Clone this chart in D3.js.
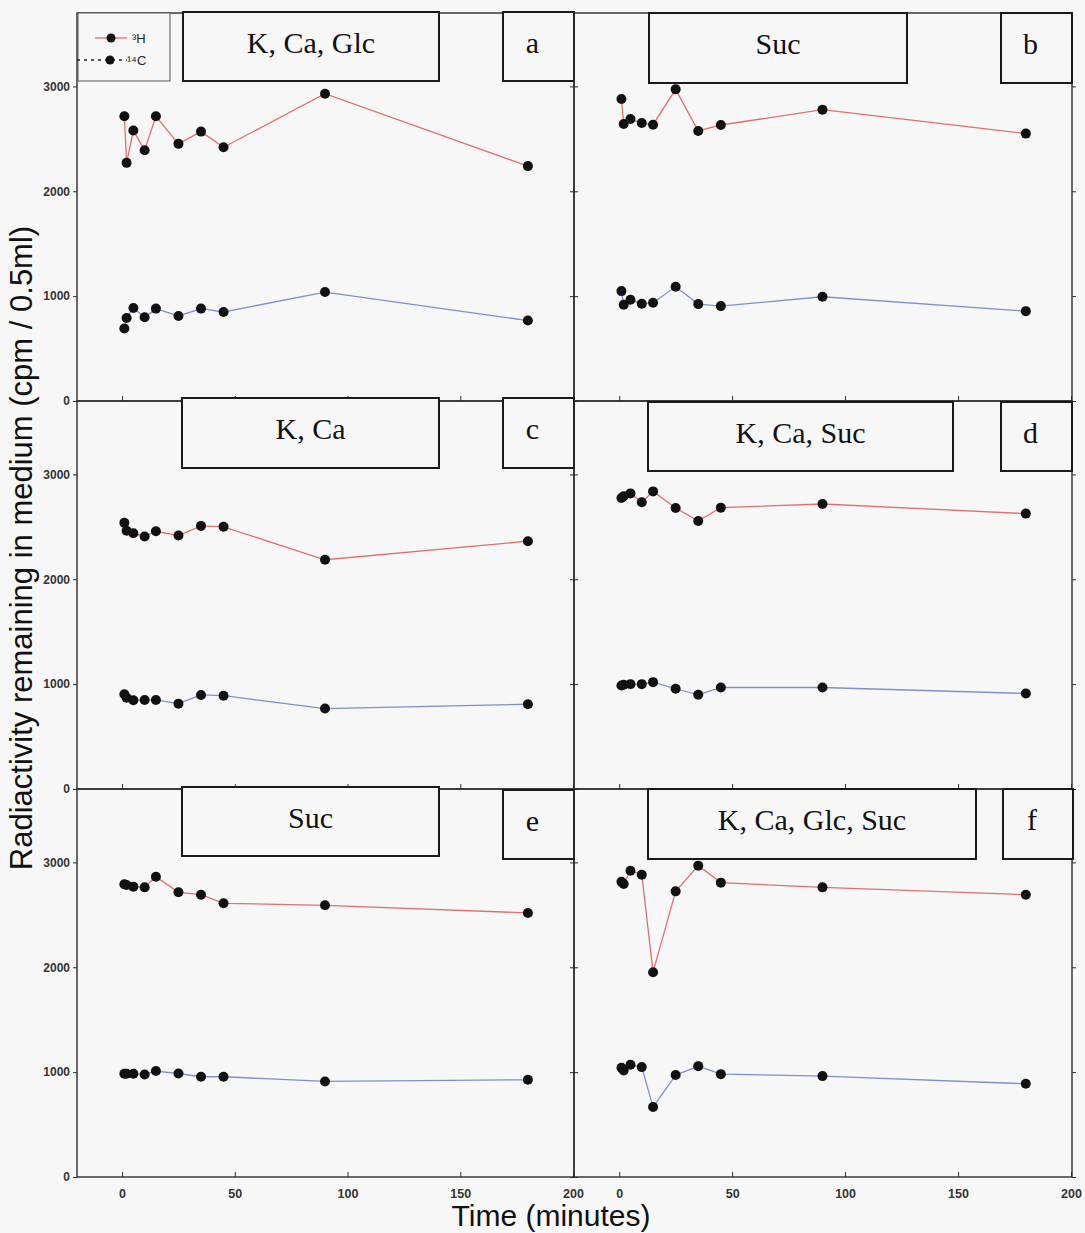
<!DOCTYPE html>
<html>
<head>
<meta charset="utf-8">
<script src="https://cdn.jsdelivr.net/npm/d3@7"></script>
<style>
  html, body { margin: 0; padding: 0; background: #f7f7f7; }
  svg { display: block; }
</style>
</head>
<body>
<svg id="chart" width="1085" height="1233"></svg>
<script>
// ---------------- data ----------------
const times = [1, 2, 5, 10, 15, 25, 35, 45, 90, 180];
const panelIds = ["a", "b", "c", "d", "e", "f"];
const panelTitles = ["K, Ca, Glc", "Suc", "K, Ca", "K, Ca, Suc", "Suc", "K, Ca, Glc, Suc"];

const h3_a  = [2715, 2271, 2579, 2392, 2715, 2452, 2569, 2420, 2930, 2240];
const c14_a = [691, 792, 887, 798, 881, 811, 881, 849, 1039, 767];
const h3_b  = [2880, 2642, 2689, 2651, 2635, 2972, 2575, 2632, 2778, 2550];
const c14_b = [1048, 918, 965, 927, 937, 1089, 924, 905, 994, 857];
const h3_c  = [2538, 2462, 2439, 2408, 2458, 2417, 2509, 2500, 2186, 2363];
const c14_c = [903, 871, 846, 849, 849, 814, 897, 890, 767, 808];
const h3_d  = [2775, 2791, 2819, 2734, 2838, 2680, 2556, 2683, 2718, 2626];
const c14_d = [987, 994, 1000, 1000, 1019, 956, 898, 968, 968, 911];
const h3_e  = [2791, 2784, 2769, 2762, 2864, 2715, 2692, 2610, 2591, 2518];
const c14_e = [984, 984, 984, 978, 1010, 987, 956, 956, 911, 927];
const h3_f  = [2816, 2794, 2921, 2883, 1953, 2724, 2969, 2807, 2762, 2692];
const c14_f = [1041, 1016, 1070, 1048, 667, 972, 1057, 981, 962, 889];

const h3Series  = [h3_a, h3_b, h3_c, h3_d, h3_e, h3_f];
const c14Series = [c14_a, c14_b, c14_c, c14_d, c14_e, c14_f];

const xTicks = [0, 50, 100, 150, 200];
const yTicks = [0, 1000, 2000, 3000];
const xDomain = [-20, 200];
const yDomain = [0, 3700];
const legendLabels = ["³H", "¹⁴C"];
const xTitle = "Time (minutes)";
const yTitle = "Radiactivity remaining in medium (cpm / 0.5ml)";

// ---------------- layout ----------------
const colX = [77, 574];
const panelW = [497, 498];
const rowY = [13, 401, 789];
const panelH = 388;
// title/letter boxes relative to panel origin: [x0, x1, y0, y1]
const titleBox = [[106, 362, -1, 68], [75, 333, 0, 70], [105, 362, -3, 67],
                  [74, 379, 1, 70], [105, 362, -2, 67], [74, 402, 0, 70]];
const letterBox = [[426, 497, -1, 68], [427, 498, 0, 70], [426, 497, -3, 67],
                   [427, 498, 1, 70], [426, 497, 1, 70], [429, 499, 0, 70]];

const red = "#e26f70";
const blue = "#7d8fcf";
const frame = "#2b2b2b";

const svg = d3.select("#chart");

panelIds.forEach((id, i) => {
  const col = i % 2, row = Math.floor(i / 2);
  const x0 = colX[col], y0 = rowY[row], w = panelW[col];
  const x = d3.scaleLinear().domain(xDomain).range([0, w - 1]);
  const y = d3.scaleLinear().domain(yDomain).range([panelH, 0]);
  const g = svg.append("g").attr("transform", `translate(${x0},${y0})`);

  // frame
  g.append("rect").attr("x", 0).attr("y", 0).attr("width", w).attr("height", panelH)
    .attr("fill", "none").attr("stroke", frame).attr("stroke-width", 1.4);

  // left y axis (outward ticks)
  const yAxisL = d3.axisLeft(y).tickValues(yTicks).tickSize(4).tickPadding(3)
    .tickFormat(col === 0 ? d3.format("d") : () => "");
  const gl = g.append("g").call(yAxisL);
  gl.select(".domain").remove();
  gl.selectAll("line").attr("stroke", frame);
  gl.selectAll("text").attr("font-family", "Liberation Sans, Arial, sans-serif")
    .attr("font-size", 12).attr("font-weight", "bold").attr("fill", "#333");

  // right y axis ticks (outward)
  const gr = g.append("g").attr("transform", `translate(${w},0)`)
    .call(d3.axisRight(y).tickValues(yTicks).tickSize(4).tickFormat(() => ""));
  gr.select(".domain").remove();
  gr.selectAll("line").attr("stroke", frame);

  // bottom x axis (inward ticks)
  const gx = g.append("g").attr("transform", `translate(0,${panelH})`)
    .call(d3.axisBottom(x).tickValues(xTicks).tickSize(-5).tickPadding(12)
      .tickFormat(row === 2 ? d3.format("d") : () => ""));
  gx.select(".domain").remove();
  gx.selectAll("line").attr("stroke", frame);
  gx.selectAll("text").attr("font-family", "Liberation Sans, Arial, sans-serif")
    .attr("font-size", 12.5).attr("font-weight", "bold").attr("fill", "#333");

  const line = d3.line().x((d, k) => x(times[k])).y(d => y(d));

  // series lines
  g.append("path").datum(c14Series[i]).attr("d", line)
    .attr("fill", "none").attr("stroke", blue).attr("stroke-width", 1.3);
  g.append("path").datum(h3Series[i]).attr("d", line)
    .attr("fill", "none").attr("stroke", red).attr("stroke-width", 1.3);

  // markers
  [c14Series[i], h3Series[i]].forEach(s => {
    g.append("g").selectAll("circle").data(s).join("circle")
      .attr("cx", (d, k) => x(times[k])).attr("cy", d => y(d)).attr("r", 5)
      .attr("fill", "#111");
  });

  // title box
  const tb = titleBox[i];
  g.append("rect").attr("x", tb[0]).attr("y", tb[2]).attr("width", tb[1] - tb[0])
    .attr("height", tb[3] - tb[2]).attr("fill", "#f7f7f7")
    .attr("stroke", "#1a1a1a").attr("stroke-width", 2);
  g.append("text").attr("x", (tb[0] + tb[1]) / 2).attr("y", tb[2] + 41)
    .attr("text-anchor", "middle").attr("font-family", "Liberation Serif, Times New Roman, serif")
    .attr("font-size", 30).attr("fill", "#111").text(panelTitles[i]);

  // letter box
  const lb = letterBox[i];
  g.append("rect").attr("x", lb[0]).attr("y", lb[2]).attr("width", lb[1] - lb[0])
    .attr("height", lb[3] - lb[2]).attr("fill", "#f7f7f7")
    .attr("stroke", "#1a1a1a").attr("stroke-width", 2);
  g.append("text").attr("x", (lb[0] + lb[1]) / 2 - 6).attr("y", lb[2] + 41)
    .attr("text-anchor", "middle").attr("font-family", "Liberation Serif, Times New Roman, serif")
    .attr("font-size", 30).attr("fill", "#111").text(id);

  // legend (panel a only)
  if (i === 0) {
    const lg = g.append("g");
    lg.append("rect").attr("x", 1).attr("y", 0).attr("width", 92).attr("height", 68)
      .attr("fill", "#f7f7f7").attr("stroke", "#555").attr("stroke-width", 1);
    lg.append("line").attr("x1", 18).attr("x2", 50).attr("y1", 25).attr("y2", 25)
      .attr("stroke", red).attr("stroke-width", 1.3);
    lg.append("circle").attr("cx", 34).attr("cy", 25).attr("r", 4.5).attr("fill", "#111");
    lg.append("text").attr("x", 55).attr("y", 30).attr("font-family", "Liberation Sans, Arial, sans-serif")
      .attr("font-size", 13).attr("fill", "#222").text(legendLabels[0]);
    lg.append("line").attr("x1", 0).attr("x2", 50).attr("y1", 47).attr("y2", 47)
      .attr("stroke", "#222").attr("stroke-width", 1.3).attr("stroke-dasharray", "3,4");
    lg.append("circle").attr("cx", 33).attr("cy", 47).attr("r", 4.5).attr("fill", "#111");
    lg.append("text").attr("x", 50).attr("y", 52).attr("font-family", "Liberation Sans, Arial, sans-serif")
      .attr("font-size", 13).attr("fill", "#222").text(legendLabels[1]);
  }
});

// axis titles
svg.append("text").attr("x", 551).attr("y", 1226).attr("text-anchor", "middle")
  .attr("font-family", "Liberation Sans, Arial, sans-serif").attr("font-size", 30)
  .attr("fill", "#111").text(xTitle);
svg.append("text").attr("transform", "translate(32,548) rotate(-90)").attr("text-anchor", "middle")
  .attr("font-family", "Liberation Sans, Arial, sans-serif").attr("font-size", 31)
  .attr("fill", "#111").text(yTitle);
</script>
</body>
</html>
